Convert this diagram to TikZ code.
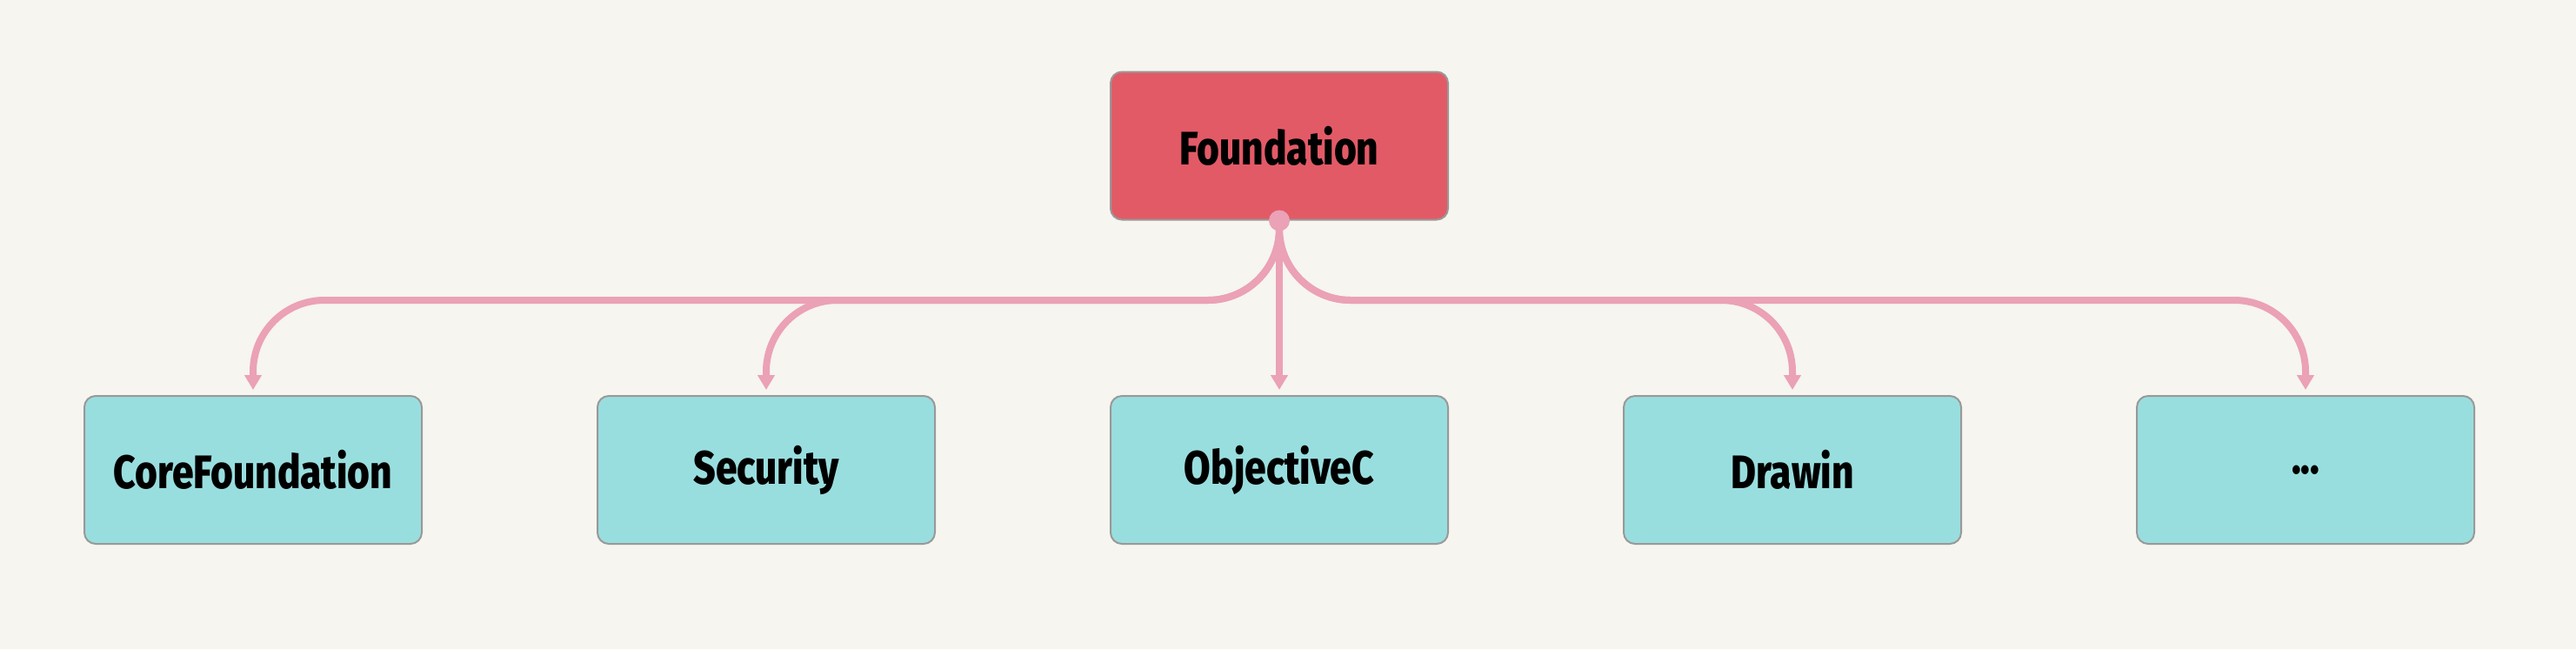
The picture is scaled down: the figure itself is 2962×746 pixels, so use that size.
\documentclass[tikz,border=0pt]{standalone}
\usepackage{fontspec}
\setmainfont{Fira Sans}[FakeStretch=0.82, BoldFont={Fira Sans ExtraBold}]
\usepackage{xcolor}
\usepackage{tikz}
\usetikzlibrary{arrows.meta}

\definecolor{bgcream}{HTML}{F6F5EF}
\definecolor{rootred}{HTML}{E35A67}
\definecolor{leafteal}{HTML}{99DEDF}
\definecolor{linkpink}{HTML}{EBA1B6}
\definecolor{boxgray}{HTML}{999999}

\begin{document}
\begin{tikzpicture}[x=0.5pt, y=-0.5pt,
    box/.style={draw=boxgray, line width=1pt, rounded corners=6.5pt,
        minimum width=194pt, minimum height=85pt, inner sep=0pt,
        font=\fontsize{27}{32}\selectfont\bfseries},
    root/.style={box, fill=rootred},
    leaf/.style={box, fill=leafteal},
    link/.style={draw=linkpink, line width=4pt, rounded corners=41pt,
        -{Triangle[length=8.5pt, width=9.5pt]}, shorten >=3pt}]
    % Background and page size
    \fill[bgcream] (0,0) rectangle (2962,746);
    \useasboundingbox (0,0) rectangle (2962,746);

    % Place the boxes
    \node[root] (found) at (1471,167.5) {Foundation};
    \node[leaf] (cf) at (291,540) {CoreFoundation};
    \node[leaf] (sec) at (881,540) {Security};
    \node[leaf] (objc) at (1471,540) {ObjectiveC};
    \node[leaf] (darwin) at (2061,540) {Drawin};
    \node[leaf] (more) at (2651,540) {...};

    % Draw links from Foundation
    \draw[link] (found.south) -- ++(0,91.5) -| (cf.north);
    \draw[link] (found.south) -- ++(0,91.5) -| (sec.north);
    \draw[link] (found.south) -- (objc.north);
    \draw[link] (found.south) -- ++(0,91.5) -| (darwin.north);
    \draw[link] (found.south) -- ++(0,91.5) -| (more.north);

    % Start dot
    \fill[linkpink] (found.south) circle (6pt);
\end{tikzpicture}
\end{document}
